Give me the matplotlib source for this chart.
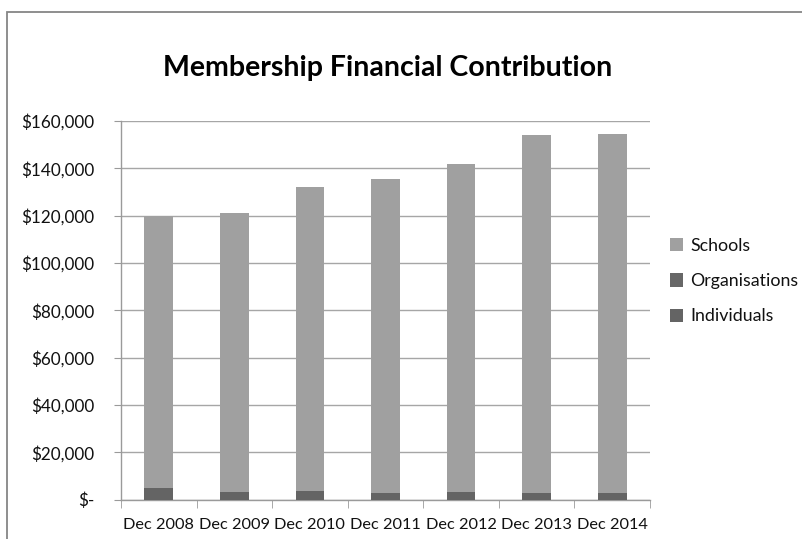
import matplotlib
matplotlib.use("Agg")
import matplotlib.pyplot as plt
import numpy as np
from matplotlib.patches import Rectangle
from matplotlib.ticker import FuncFormatter

categories = ["Dec 2008", "Dec 2009", "Dec 2010", "Dec 2011", "Dec 2012", "Dec 2013", "Dec 2014"]
individuals = [4700, 3300, 3600, 2900, 3200, 2900, 2600]
organisations = [0, 0, 0, 0, 0, 0, 0]
totals = [120000, 121000, 132000, 135500, 142000, 154000, 154500]
schools = [t - i - o for t, i, o in zip(totals, individuals, organisations)]
yticks = [0, 20000, 40000, 60000, 80000, 100000, 120000, 140000, 160000]

FONT = "Lato"
plt.rcParams['font.family'] = [FONT, 'DejaVu Sans']

fig = plt.figure(figsize=(8.03, 5.39), dpi=100)
W, H = 803, 539
# chart frame
fig.patches.append(Rectangle((7 / W, -0.2), 1.2, 1.2 - 12 / H, transform=fig.transFigure,
                             fill=False, edgecolor="#868686", linewidth=1.3))

ax = fig.add_axes([121 / W, 1 - 499.5 / H, (650 - 121) / W, (499.5 - 121) / H])
x = np.arange(len(categories))
bw = 0.38
c_school = "#a0a0a0"
c_org = "#676767"
c_ind = "#646464"
ax.bar(x, individuals, bw, color=c_ind, label="Individuals", zorder=3)
ax.bar(x, organisations, bw, bottom=individuals, color=c_org, label="Organisations", zorder=3)
bott = [i + o for i, o in zip(individuals, organisations)]
ax.bar(x, schools, bw, bottom=bott, color=c_school, label="Schools", zorder=3)

ax.set_xlim(-0.5, len(categories) - 0.5)
ax.set_ylim(0, 160000)
ax.set_yticks(yticks)
ax.yaxis.set_major_formatter(FuncFormatter(lambda v, p: "$-" if v == 0 else f"${v:,.0f}"))
ax.grid(axis="y", color="#a6a6a6", linewidth=1.0, zorder=0)
for s in ["top", "right"]:
    ax.spines[s].set_visible(False)
for s in ["left", "bottom"]:
    ax.spines[s].set_color("#9a9a9a")
    ax.spines[s].set_linewidth(1.0)

ax.set_xticks(x)
ax.set_xticklabels(categories, fontsize=11.8, color="#111111")
ax.tick_params(axis="x", length=0, pad=13)
ax.set_xticks(np.arange(-0.5, len(categories)), minor=True)
ax.tick_params(axis="x", which="minor", length=6, color="#9a9a9a", direction="out")
ax.tick_params(axis="y", length=5, color="#9a9a9a", labelsize=12.3, labelcolor="#111111", pad=14)

fig.text(388 / W, 1 - 68 / H, "Membership Financial Contribution", ha="center", va="center",
         fontsize=20.5, fontweight="bold", color="#000000")

handles, labels = ax.get_legend_handles_labels()
leg = fig.legend(handles[::-1], labels[::-1], loc="upper left", bbox_to_anchor=(654 / W, 1 - 222 / H),
                 frameon=False, fontsize=12.8, handlelength=0.75, handleheight=0.75,
                 handletextpad=0.4, labelspacing=1.08, labelcolor="#111111")

fig.savefig("out.png", dpi=100)
